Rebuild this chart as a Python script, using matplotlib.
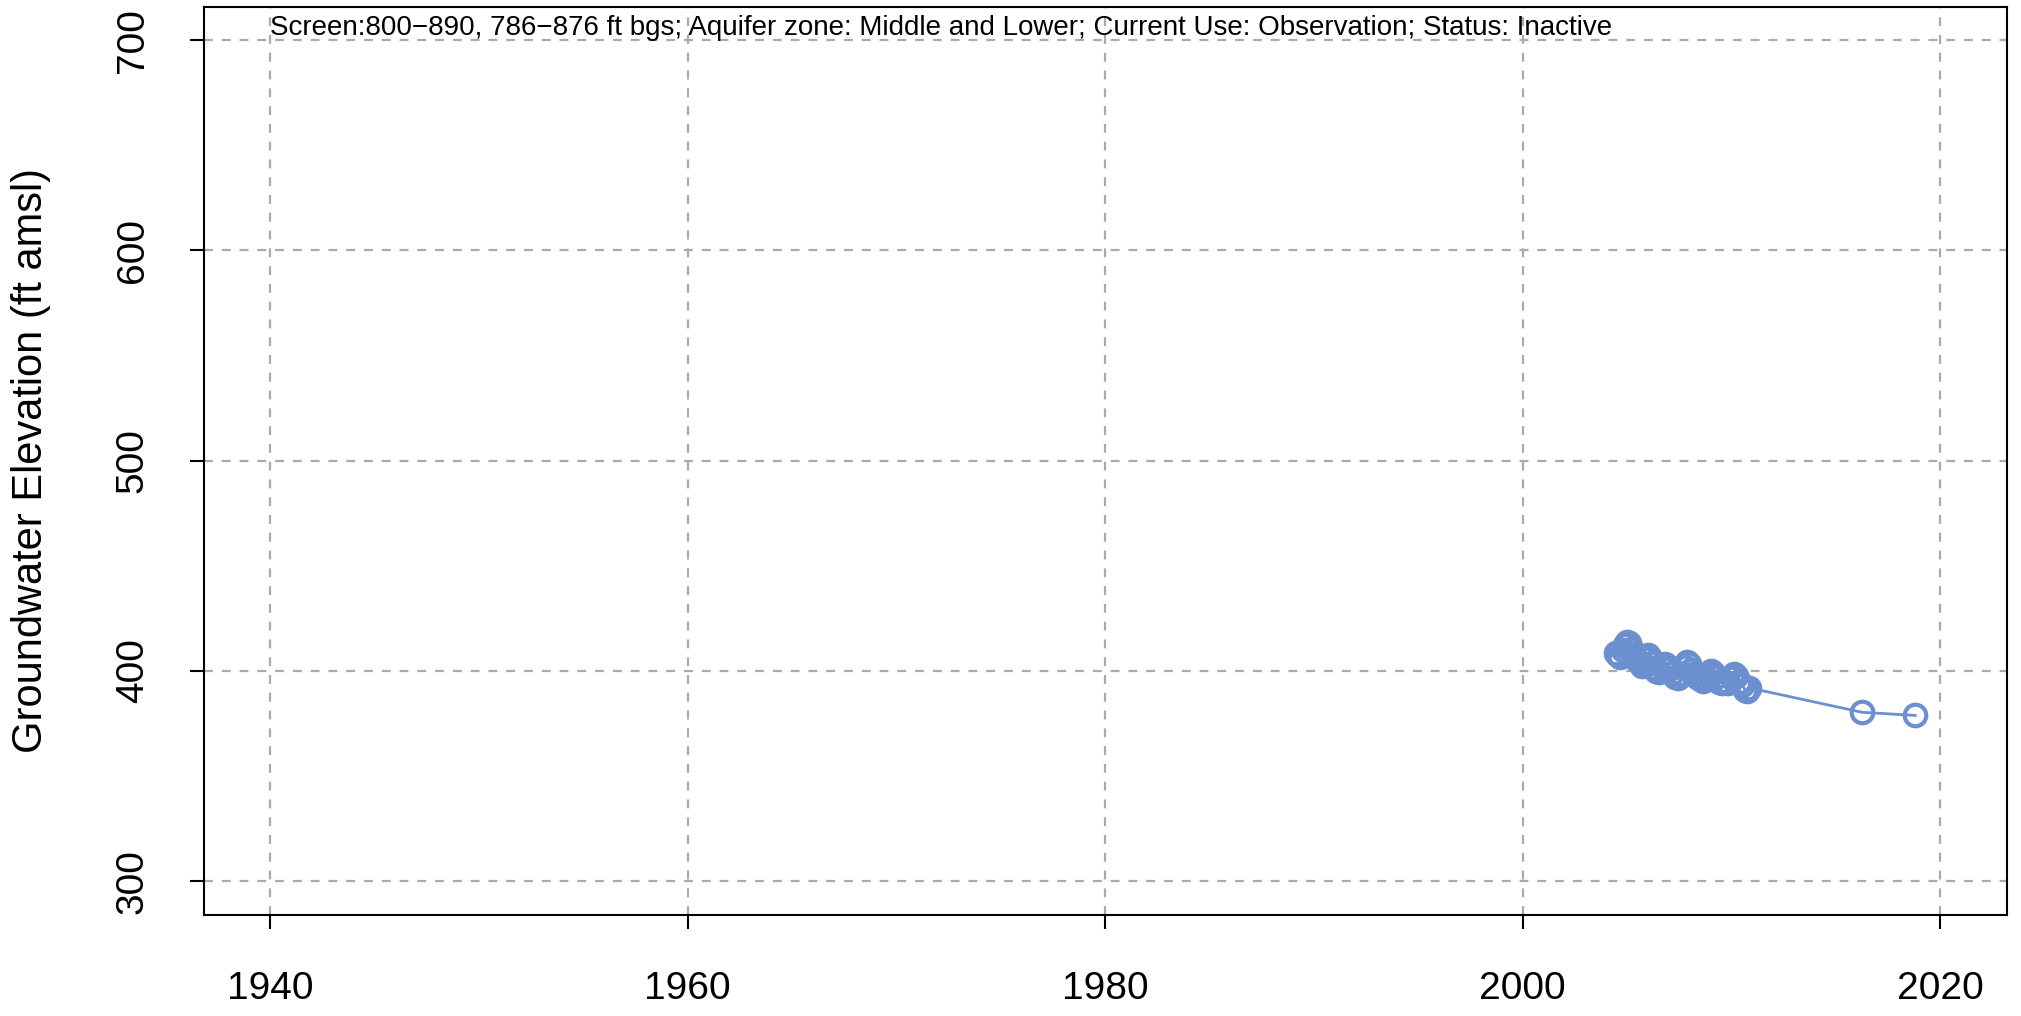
import matplotlib
matplotlib.use("Agg")
import matplotlib.pyplot as plt

# Groundwater elevation observations (decimal year, ft amsl)
years = [2004.45, 2004.55, 2004.65, 2004.8, 2004.9, 2005.0, 2005.1, 2005.2,
         2005.3, 2005.4, 2005.5, 2005.6, 2005.7, 2005.8, 2005.9, 2006.0,
         2006.1, 2006.2, 2006.3, 2006.4, 2006.55, 2006.7, 2006.8, 2006.9,
         2007.0, 2007.15, 2007.3, 2007.45, 2007.6, 2007.75, 2007.85, 2007.95,
         2008.05, 2008.2, 2008.35, 2008.5, 2008.65, 2008.8, 2008.9, 2009.0,
         2009.1, 2009.25, 2009.4, 2009.55, 2009.7, 2009.85, 2010.0, 2010.1,
         2010.2, 2010.35, 2010.5, 2010.65, 2010.75, 2010.85, 2016.25, 2018.8]
elev = [408.5, 407.5, 406.5, 410.0, 412.5, 414.0, 413.5, 410.5,
        408.0, 406.0, 405.0, 404.0, 402.5, 403.0, 405.5, 407.5,
        406.0, 404.0, 401.5, 400.0, 399.5, 401.5, 403.5, 402.5,
        401.0, 399.0, 397.0, 396.5, 398.5, 402.0, 404.5, 403.5,
        400.5, 398.5, 397.0, 396.0, 395.5, 396.5, 398.5, 400.0,
        399.0, 397.0, 395.0, 394.5, 395.0, 394.5, 396.5, 398.5,
        397.5, 395.0, 393.5, 391.0, 390.5, 392.0, 380.4, 378.9]

x_ticks = [1940, 1960, 1980, 2000, 2020]
y_ticks = [300, 400, 500, 600, 700]
note = ("Screen:800\u2212890, 786\u2212876 ft bgs; Aquifer zone: Middle and Lower; "
        "Current Use: Observation; Status: Inactive")

plt.rcParams["font.family"] = ["Liberation Sans", "DejaVu Sans"]
color = "#6b8fcf"

fig = plt.figure(figsize=(20.21, 10.16), dpi=100)
ax = fig.add_axes([0.1007, 0.0994, 0.8924, 0.8942])

ax.plot(years, elev, color=color, lw=2, marker="o", markersize=15.5,
        markerfacecolor="none", markeredgecolor=color, markeredgewidth=3)

ax.set_xlim(1936.8, 2023.2)
ax.set_ylim(284, 716)
ax.set_xticks(x_ticks)
ax.set_yticks(y_ticks)
ax.grid(True, color="#aaaaaa", linestyle=(0, (4, 4)), lw=1.6)

ax.tick_params(axis="both", direction="out", length=10, width=1.5, labelsize=28)
ax.tick_params(axis="x", pad=30)
ax.tick_params(axis="y", pad=28)
for lbl in ax.get_yticklabels():
    lbl.set_rotation(90)
    lbl.set_va("center")
for sp in ax.spines.values():
    sp.set_linewidth(1.5)

ax.set_ylabel("Groundwater Elevation (ft amsl)", fontsize=30, labelpad=46)
ax.text(1940, 706, note, fontsize=20, ha="left", va="center")

fig.savefig("out.png", dpi=100)
